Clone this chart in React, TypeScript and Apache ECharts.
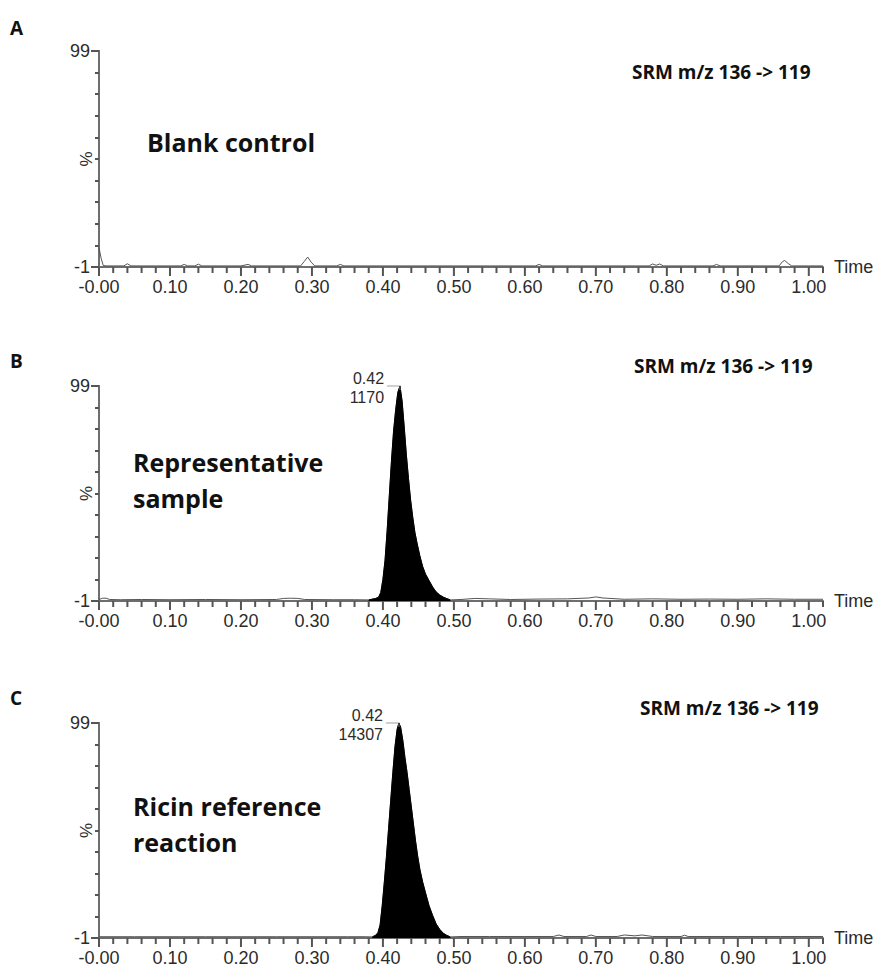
import React, { useEffect, useRef } from 'react';
import * as echarts from 'echarts';

// ---------- data ----------
const panelLetters = ['A', 'B', 'C'];
const sampleNames = ['Blank control', 'Representative\nsample', 'Ricin reference\nreaction'];
const transitionLabel = 'SRM m/z 136 -> 119';
const xLabelValues = [0, 0.1, 0.2, 0.3, 0.4, 0.5, 0.6, 0.7, 0.8, 0.9, 1.0];
const xMinorTickValues: number[] = [];
for (let k = 1; k <= 51; k++) if (k % 5 !== 0) xMinorTickValues.push(k / 50);
const yLabelValues = [-1, 99];
const peakTimeLabels = ['0.42', '0.42'];
const peakIntensityLabels = ['1170', '14307'];

// Panel A: blank control trace (time, %)
const blankTrace: [number, number][] = [
  [0, 8], [0.003, 3], [0.006, -0.3], [0.01, -0.5], [0.02, -0.5], [0.035, -0.5], [0.04, 0.5], [0.045, -0.5],
  [0.08, -0.5], [0.115, -0.5], [0.12, 0.2], [0.125, -0.5], [0.135, -0.5], [0.14, 0.3], [0.145, -0.5], [0.2, -0.5],
  [0.21, 0.2], [0.215, -0.5], [0.284, -0.5], [0.289, 1.5], [0.294, 3.6], [0.299, 1.2], [0.304, -0.5],
  [0.335, -0.5], [0.34, 0.2], [0.345, -0.5], [0.45, -0.5], [0.55, -0.5], [0.615, -0.5], [0.62, 0.2], [0.625, -0.5],
  [0.775, -0.5], [0.78, 0.4], [0.785, -0.2], [0.79, 0.4], [0.795, -0.5], [0.865, -0.5], [0.87, 0.2], [0.875, -0.5],
  [0.958, -0.5], [0.963, 1.5], [0.966, 2], [0.971, 0.6], [0.976, -0.5], [1.0, -0.5], [1.02, -0.5],
];

// Panel B: representative sample
const sampleBaselineLeft: [number, number][] = [
  [0, -0.3], [0.005, 0.3], [0.01, 0.3], [0.015, -0.3], [0.03, -0.4], [0.06, -0.3], [0.1, -0.4], [0.15, -0.3],
  [0.2, -0.4], [0.25, -0.3], [0.26, 0.2], [0.27, 0.3], [0.28, 0.2], [0.29, -0.3], [0.33, -0.4], [0.36, -0.4],
];
const samplePeak: [number, number][] = [
  [0.38, -0.5], [0.39, 0.2], [0.394, 0.8], [0.397, 3], [0.4, 9], [0.403, 18], [0.406, 32], [0.409, 48],
  [0.412, 64], [0.415, 78], [0.418, 88], [0.421, 96], [0.424, 99], [0.427, 92], [0.43, 80], [0.433, 67],
  [0.436, 56], [0.439, 46], [0.442, 38], [0.445, 31], [0.448, 26], [0.452, 20], [0.456, 15], [0.46, 11.5],
  [0.465, 8.5], [0.47, 5.5], [0.475, 3.2], [0.48, 1.8], [0.485, 0.8], [0.49, 0.1], [0.495, -0.5],
];
const sampleBaselineRight: [number, number][] = [
  [0.51, -0.3], [0.53, 0.2], [0.55, 0], [0.58, -0.3], [0.62, -0.1], [0.66, 0], [0.69, 0.4], [0.7, 0.9],
  [0.71, 0.4], [0.74, -0.2], [0.78, 0], [0.82, -0.2], [0.86, -0.1], [0.9, -0.2], [0.94, 0], [0.98, -0.2],
  [1.02, -0.2],
];

// Panel C: ricin reference reaction
const referenceBaselineLeft: [number, number][] = [
  [0, -0.4], [0.05, -0.4], [0.1, -0.4], [0.15, -0.4], [0.2, -0.4], [0.25, -0.4], [0.3, -0.4], [0.35, -0.4], [0.375, -0.4],
];
const referencePeak: [number, number][] = [
  [0.385, -0.5], [0.39, 0.3], [0.393, 1.5], [0.396, 5], [0.399, 14], [0.402, 25], [0.405, 37], [0.408, 50],
  [0.411, 63], [0.414, 76], [0.417, 88], [0.42, 96], [0.4225, 99], [0.425, 97], [0.428, 91], [0.431, 83],
  [0.434, 76], [0.437, 68], [0.44, 60], [0.443, 52], [0.446, 44], [0.449, 37], [0.452, 31], [0.456, 25],
  [0.46, 20], [0.465, 14], [0.47, 9.5], [0.475, 5.5], [0.48, 3], [0.485, 1.2], [0.49, 0.2], [0.495, -0.5],
];
const referenceBaselineRight: [number, number][] = [
  [0.51, -0.3], [0.55, -0.3], [0.6, -0.3], [0.64, -0.3], [0.648, 0.4], [0.655, -0.3], [0.687, -0.3], [0.693, 0.4],
  [0.7, -0.3], [0.73, -0.3], [0.74, 0.4], [0.755, 0], [0.765, 0.4], [0.78, -0.3], [0.82, -0.3], [0.825, 0.3],
  [0.83, -0.3], [0.9, -0.3], [0.96, -0.3], [1.02, -0.3],
];

// ---------- layout ----------
const GRID_LEFT = 99;
const GRID_WIDTH = 724;
const gridTops = [51, 386, 723];
const gridHeights = [216, 215, 215];
const AXIS_COLOR = '#6e6e6e';
const TICK_COLOR = '#555555';
const TEXT_COLOR = '#2b2b2b';
const AXIS_FONT = '"Liberation Sans", Arial, sans-serif';
const NOTE_FONT = '"Open Sans", sans-serif';

const traces = [
  blankTrace,
  [...sampleBaselineLeft, ...samplePeak, ...sampleBaselineRight],
  [...referenceBaselineLeft, ...referencePeak, ...referenceBaselineRight],
];
const peaks = [null, samplePeak, referencePeak];

const letterPos = [[10, 28], [10, 361], [10, 698]];
const srmPos = [[632, 72], [634, 366], [640, 708]];
const namePos = [[147, 142], [133, 480], [133, 824]];

export default function App() {
  const ref = useRef<HTMLDivElement>(null);
  useEffect(() => {
    if (!ref.current) return;
    const chart = echarts.init(ref.current, undefined, { renderer: 'svg' });

    const grids: any[] = [];
    const xAxes: any[] = [];
    const yAxes: any[] = [];
    const series: any[] = [];
    const graphics: any[] = [];

    for (let i = 0; i < 3; i++) {
      grids.push({ left: GRID_LEFT, top: gridTops[i], width: GRID_WIDTH, height: gridHeights[i] });
      xAxes.push({
        gridIndex: i, type: 'value', min: 0, max: 1.02, interval: 0.1, position: 'bottom',
        axisLine: { show: true, onZero: false, lineStyle: { color: AXIS_COLOR, width: 2 } },
        axisTick: { show: false },
        axisLabel: {
          show: true, customValues: xLabelValues, margin: 11, fontSize: 18, color: TEXT_COLOR, fontFamily: AXIS_FONT,
          formatter: (v: number) => (v === 0 ? '-0.00' : v.toFixed(2)),
        },
        splitLine: { show: false },
        name: 'Time', nameLocation: 'end', nameGap: 11, nameMoveOverlap: false,
        nameTextStyle: { fontSize: 18, color: TEXT_COLOR, fontFamily: AXIS_FONT },
      });
      yAxes.push({
        gridIndex: i, type: 'value', min: -1, max: 99, position: 'left',
        axisLine: { show: true, onZero: false, lineStyle: { color: AXIS_COLOR, width: 2 } },
        axisTick: { show: true, customValues: yLabelValues, length: 8, lineStyle: { color: TICK_COLOR, width: 2 } },
        axisLabel: { show: true, customValues: yLabelValues, margin: 9, fontSize: 18, color: TEXT_COLOR, fontFamily: AXIS_FONT },
        splitLine: { show: false },
        name: '%', nameLocation: 'middle', nameRotate: 90, nameGap: 4, nameMoveOverlap: false,
        nameTextStyle: { fontSize: 17, color: TEXT_COLOR, fontFamily: AXIS_FONT },
      });
      // minor y ticks every 10 % (same span shifted: 0..100 == -1..99)
      yAxes.push({
        gridIndex: i, type: 'value', min: 0, max: 100, interval: 10, position: 'left',
        axisLine: { show: true, onZero: false, lineStyle: { color: AXIS_COLOR, width: 2 } },
        axisTick: { show: true, length: 4, lineStyle: { color: TICK_COLOR, width: 2 } },
        axisLabel: { show: false }, splitLine: { show: false },
      });

      // x-axis tick marks, placed through the axis scale
      series.push({
        type: 'scatter', xAxisIndex: i, yAxisIndex: 2 * i, silent: true, clip: false, z: 5,
        data: xLabelValues.map((v) => [v, -1]), symbol: 'rect', symbolSize: [2, 9], symbolOffset: [0, 4.5],
        itemStyle: { color: TICK_COLOR, opacity: 1 },
      });
      series.push({
        type: 'scatter', xAxisIndex: i, yAxisIndex: 2 * i, silent: true, clip: false, z: 5,
        data: xMinorTickValues.map((v) => [v, -1]), symbol: 'rect', symbolSize: [2, 6], symbolOffset: [0, 3],
        itemStyle: { color: TICK_COLOR, opacity: 1 },
      });

      series.push({
        type: 'line', xAxisIndex: i, yAxisIndex: 2 * i, data: traces[i], symbol: 'none',
        lineStyle: { color: '#555555', width: 1 }, z: 3,
      });
      const pk = peaks[i];
      if (pk) {
        const j = i - 1;
        series.push({
          type: 'line', xAxisIndex: i, yAxisIndex: 2 * i, data: pk, symbol: 'none',
          lineStyle: { color: '#000000', width: 1 },
          areaStyle: { color: '#000000', opacity: 1, origin: 'start' }, z: 4,
          markPoint: {
            symbol: 'path://M0,0 L13,0 L13,4',
            symbolSize: [13, 4],
            symbolOffset: [-6.5, 2],
            itemStyle: { color: 'transparent', borderColor: '#444444', borderWidth: 1 },
            label: {
              show: true, position: 'left', distance: 2, align: 'right',
              formatter: () => `${peakTimeLabels[j]}\n${peakIntensityLabels[j]}`,
              fontSize: 16, lineHeight: 19, color: TEXT_COLOR, fontFamily: AXIS_FONT,
            },
            data: [{ type: 'max' }],
          },
        });
      }

      graphics.push({
        type: 'text', x: letterPos[i][0], y: letterPos[i][1],
        style: { text: panelLetters[i], fill: '#111111', font: `bold 19px ${NOTE_FONT}`, verticalAlign: 'middle', align: 'left' },
      });
      graphics.push({
        type: 'text', x: srmPos[i][0], y: srmPos[i][1],
        style: { text: transitionLabel, fill: '#111111', font: `bold 19px ${NOTE_FONT}`, verticalAlign: 'middle', align: 'left' },
      });
      graphics.push({
        type: 'text', x: namePos[i][0], y: namePos[i][1],
        style: { text: sampleNames[i], fill: '#111111', font: `bold 25px ${NOTE_FONT}`, lineHeight: 36, verticalAlign: 'middle', align: 'left' },
      });
    }

    chart.setOption({
      animation: false,
      backgroundColor: '#ffffff',
      grid: grids,
      xAxis: xAxes,
      yAxis: yAxes,
      series,
      graphic: graphics,
    });
    return () => chart.dispose();
  }, []);

  return <div ref={ref} style={{ position: 'absolute', left: 0, top: 0, width: 881, height: 969 }} />;
}
